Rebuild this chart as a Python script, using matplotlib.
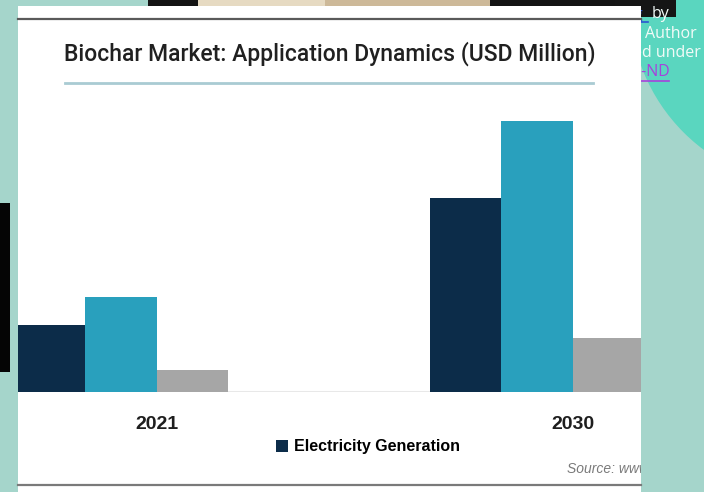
import matplotlib
matplotlib.use('Agg')
import matplotlib.pyplot as plt
from matplotlib.patches import Rectangle, Circle
from matplotlib.lines import Line2D

# data (USD million)
years = ['2021', '2030']
electricity = [67, 194]
series_b = [95, 271]
series_c = [22, 54]
series_names = ['Electricity Generation']

W, H = 704, 492
fig = plt.figure(figsize=(W / 100, H / 100), dpi=100)
fig.patch.set_facecolor('#a5d5cb')


def fx(px):
    return px / W


def fy(py):
    return 1 - py / H


def rect(x0, y0, x1, y1, color, z):
    fig.patches.append(Rectangle((fx(x0), fy(y1)), fx(x1) - fx(x0), fy(y0) - fy(y1),
                                 transform=fig.transFigure, facecolor=color,
                                 edgecolor='none', zorder=z))


# background bits around the screenshot
fig.patches.append(Circle((813, H - 3), 183, transform=None, facecolor='#5ad6bf',
                          edgecolor='none', zorder=0.1))
rect(148, 0, 615, 7, '#141414', 0.2)
rect(198, 0, 325, 7, '#e6dac2', 0.3)
rect(325, 0, 490, 7, '#cdb999', 0.3)
rect(615, 0, 676, 17, '#151515', 0.2)
rect(0, 203, 10, 372, '#050505', 0.2)

side = dict(color='#f2fbf8', fontsize=11.5, family='Open Sans', zorder=0.5,
            va='center', ha='left')
fig.text(fx(634), fy(15), 'g', **{**side, 'color': '#2c55d0'})
fig.text(fx(652), fy(14), 'by', **side)
fig.text(fx(645), fy(34), 'Author', **side)
fig.text(fx(633), fy(53), 'ed under', **side)
fig.text(fx(631), fy(72), 'C-ND', **{**side, 'color': '#a642dc'})
fig.lines.append(Line2D([fx(641), fx(669)], [fy(81), fy(81)], transform=fig.transFigure,
                        color='#a642dc', lw=1.2, zorder=0.5))
fig.lines.append(Line2D([fx(641), fx(648)], [fy(22), fy(22)], transform=fig.transFigure,
                        color='#2c55d0', lw=1.2, zorder=0.5))

# white panel
rect(18, 6, 641, 492, 'white', 1)
fig.lines.append(Line2D([fx(18), fx(641)], [fy(19), fy(19)], transform=fig.transFigure,
                        color='#5a5a5a', lw=1.6, zorder=1.5))
fig.lines.append(Line2D([fx(18), fx(641)], [fy(485), fy(485)], transform=fig.transFigure,
                        color='#7a7a7a', lw=1.6, zorder=1.5))
fig.lines.append(Line2D([fx(65), fx(593)], [fy(83), fy(83)], transform=fig.transFigure,
                        color='#a9cbd3', lw=2, zorder=1.5))

fig.text(fx(64), fy(54), 'Biochar Market: Application Dynamics (USD Million)',
         fontsize=16.5, family='Roboto', fontweight='medium', color='#202020',
         va='center', ha='left', zorder=2)

# chart area
ax = fig.add_axes([fx(18), fy(392), fx(641) - fx(18), fy(110) - fy(392)], zorder=2)
ax.patch.set_visible(False)
for s in ax.spines.values():
    s.set_visible(False)

gap = 416.0
w = 71.5 / gap
x = [0, 1]
ax.axhline(0, color='#e8e8e8', lw=1.5, zorder=0)
b1 = ax.bar([v - 1.5 * w for v in x], electricity, w, color='#0c2c49', label=series_names[0])
ax.bar([v - 0.5 * w for v in x], series_b, w, color='#29a0bd')
ax.bar([v + 0.5 * w for v in x], series_c, w, color='#a6a6a6')

ax.set_xlim((18 - 157) / gap, (641 - 157) / gap)
ax.set_ylim(0, 282)
ax.set_yticks([])
ax.set_xticks(x)
ax.set_xticklabels(years, fontsize=14, fontweight='bold', family='Liberation Sans',
                   color='#1e1e1e')
ax.tick_params(axis='x', length=0, pad=17)

fig.legend(handles=[b1], labels=series_names, loc='center',
           bbox_to_anchor=(fx(368), fy(447)), frameon=False, handlelength=0.75,
           handleheight=0.75, handletextpad=0.4,
           prop={'family': 'Liberation Sans', 'weight': 'bold', 'size': 11.5})

fig.text(fx(567), fy(469), 'Source: www', fontsize=10, family='Liberation Sans',
         style='italic', color='#7a7a7a', va='center', ha='left', zorder=1.2)
# cover the text that runs past the panel edge
rect(641, 455, 704, 485, '#a5d5cb', 1.3)

fig.savefig('out.png', dpi=100, facecolor=fig.get_facecolor())
